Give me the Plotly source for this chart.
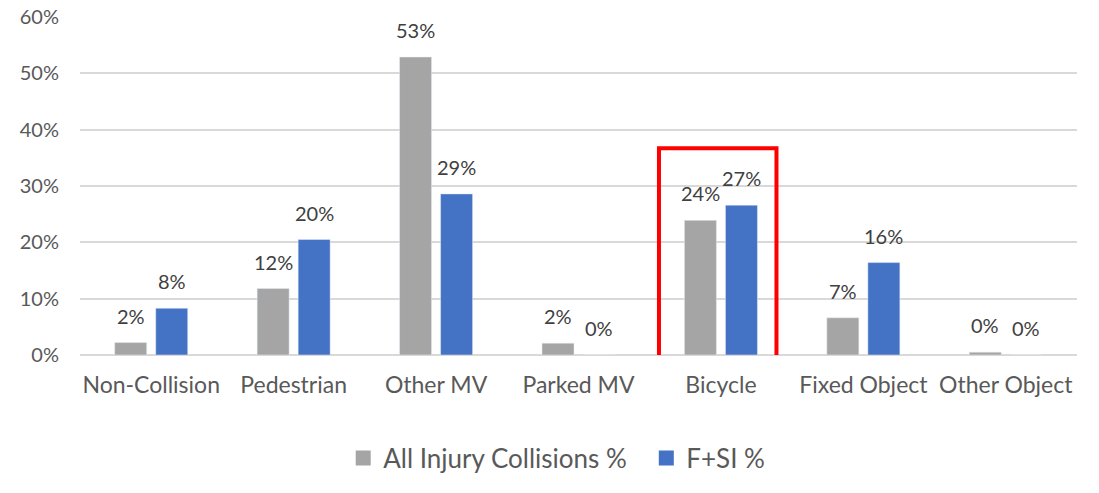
import plotly.graph_objects as go

categories = ["Non-Collision", "Pedestrian", "Other MV", "Parked MV", "Bicycle", "Fixed Object", "Other Object"]
all_injury = [2.2, 11.8, 52.9, 2.1, 23.9, 6.6, 0.5]
fsi = [8.3, 20.5, 28.6, 0.0, 26.6, 16.4, 0.0]
series_names = ["All Injury Collisions %", "F+SI %"]
series_colors = ["#A5A5A5", "#4472C4"]
tick_vals = [0, 10, 20, 30, 40, 50, 60]
tick_text = [f"{v}%" for v in tick_vals]

FONT = "Lato, 'Open Sans', sans-serif"

fig = go.Figure()
for name, vals, col, lg in zip(series_names, [all_injury, fsi], series_colors, ["legend", "legend2"]):
    fig.add_trace(go.Bar(x=categories, y=vals, name=name, marker=dict(color=col),
                         showlegend=False))
    # legend proxy with larger square symbol
    fig.add_trace(go.Scatter(x=[None], y=[None], mode="markers", name=name, legend=lg,
                             marker=dict(symbol="square", size=15, color=col)))

# data labels above each bar
for vals, shift in [(all_injury, -20.5), (fsi, 20.5)]:
    for c, v in zip(categories, vals):
        fig.add_annotation(x=c, y=v, xref="x", yref="y", text=f"{round(v)}%",
                           showarrow=False, xshift=shift, yshift=13, yanchor="bottom",
                           font=dict(size=20, color="#404040", family=FONT))

# highlight box around Bicycle group
fig.add_shape(type="rect", xref="x", yref="y",
              x0=4 - 0.435, x1=4 + 0.39, y0=-1.6, y1=36.7,
              line=dict(color="#FF0000", width=4), fillcolor="rgba(0,0,0,0)")

legend_common = dict(orientation="h", xanchor="left", y=-0.305, yanchor="middle",
                     font=dict(size=26, color="#595959"), itemwidth=30,
                     bgcolor="rgba(0,0,0,0)")

fig.update_layout(
    width=1099, height=493,
    margin=dict(l=80, r=22, t=17, b=129),
    paper_bgcolor="white", plot_bgcolor="white",
    barmode="group", bargap=0.424, bargroupgap=0.22,
    font=dict(family=FONT, color="#595959", size=20),
    showlegend=True,
    legend=dict(x=0.264, **legend_common),
    legend2=dict(x=0.568, **legend_common),
    xaxis=dict(showgrid=False, showline=False, ticks="", automargin=False,
               tickfont=dict(size=23, color="#595959"), ticklabelstandoff=14),
    yaxis=dict(range=[0, 60], tickvals=tick_vals, ticktext=tick_text, showgrid=True,
               automargin=False,
               gridcolor="#D9D9D9", gridwidth=1.5, zeroline=True, zerolinecolor="#D9D9D9",
               zerolinewidth=1.5, ticks="", tickfont=dict(size=20, color="#595959"),
               ticklabelstandoff=20),
)

fig.write_html("out.html", config={"displayModeBar": False},
               post_script="document.body.style.margin='0';document.body.style.overflow='hidden';")
